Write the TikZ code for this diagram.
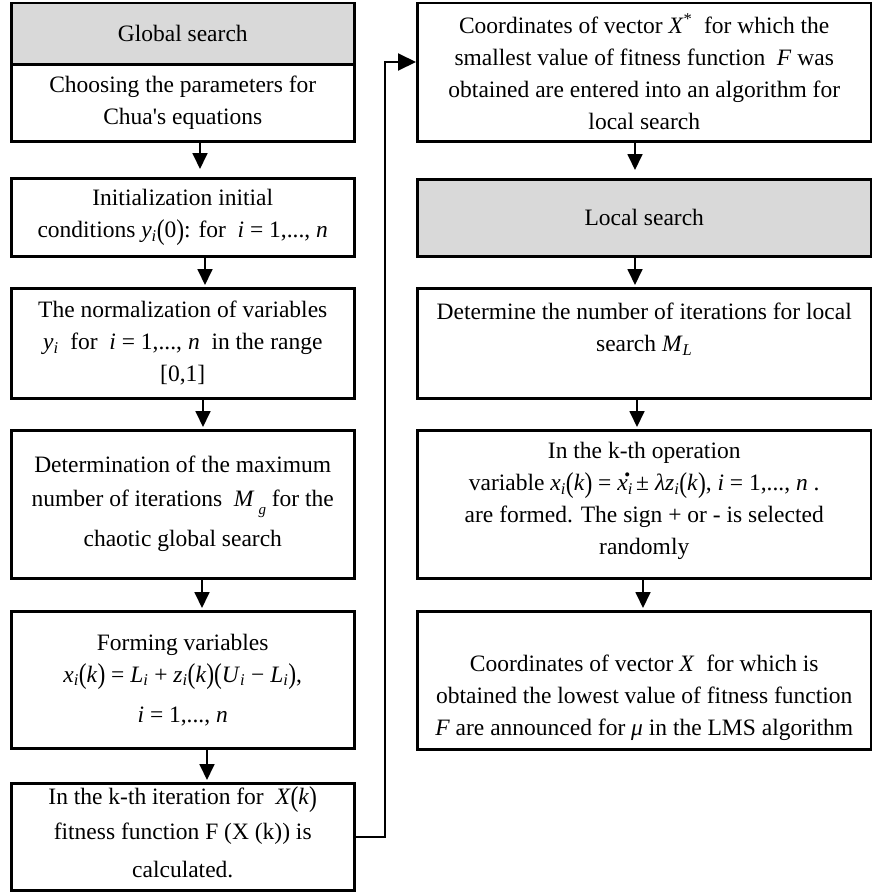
\documentclass[tikz,border=0pt]{standalone}
\usepackage{fontspec}
\usepackage{graphicx}
\setmainfont{Liberation Serif}
\usetikzlibrary{arrows.meta}
\newcommand\mi[1]{\textit{#1}}
\newcommand\sbi[2]{\textit{#1}\textsubscript{\textit{#2}}}
\newcommand\bpar[1]{\raisebox{-0.08em}{\scalebox{1}[1.22]{(}}#1\raisebox{-0.08em}{\scalebox{1}[1.22]{)}}}
\newcommand\xdot{\mi{x}\textsubscript{\mi{i}}\kern-0.36em\raisebox{0.42em}{\fontsize{17pt}{17pt}\selectfont •}}
\tikzset{
  box/.style={draw=black, line width=2.5pt, fill=white, anchor=north west, inner sep=0pt,
    align=center, font=\fontsize{23.5pt}{32pt}\selectfont},
  graybox/.style={box, fill=black!15},
  arr/.style={line width=1.8pt, -{Triangle[length=16pt,width=15pt]}},
  feed/.style={line width=2pt, -{Triangle[length=18pt,width=17pt]}},
}
\begin{document}
\begin{tikzpicture}
\useasboundingbox (0,0) rectangle (872pt,-892pt);
% left column
\node[graybox, minimum width=343pt, minimum height=62pt] (L1g) at (10pt,-1.5pt) {Global search};
\node[box, minimum width=343pt, minimum height=77pt] (L1w) at (10pt,-63pt) {Choosing the parameters for\\Chua\textquotesingle s equations};
\node[box, minimum width=343pt, minimum height=78pt] (L2) at (10pt,-177pt) {Initialization initial\\conditions \sbi{y}{i}\bpar{0}: for \ \mi{i} = 1,..., \mi{n}};
\node[box, minimum width=343pt, minimum height=110pt] (L3) at (10pt,-287pt) {The normalization of variables\\\sbi{y}{i}\ \ for \ \mi{i} = 1,..., \mi{n}\ \ in the range\\{[0,1]}};
\node[box, minimum width=343pt, minimum height=148pt] (L4) at (10pt,-429pt) {Determination of the maximum\\[2pt]number of iterations \ \mi{M}\,\raisebox{-0.3em}{\fontsize{15pt}{15pt}\selectfont\mi{g}} for the\\[8pt]chaotic global search};
\node[box, minimum width=343pt, minimum height=137pt] (L5) at (10pt,-610pt) {Forming variables\\\sbi{x}{i}\bpar{\mi{k}} = \sbi{L}{i} + \sbi{z}{i}\bpar{\mi{k}}\bpar{\sbi{U}{i} − \sbi{L}{i}},\\[8pt]\mi{i} = 1,..., \mi{n}};
\node[box, minimum width=343pt, minimum height=107pt] (L6) at (10pt,-782pt) {In the k-th iteration for \ \mi{X}\bpar{\mi{k}}\\[3pt]fitness function F (X (k)) is\\[6pt]calculated.\\[-22pt]\mbox{}};
% right column
\node[box, minimum width=454pt, minimum height=138.5pt] (R1) at (416pt,-1.5pt) {Coordinates of vector \mi{X}\textsuperscript{*}\ \ for which the\\smallest value of fitness function \ \mi{F} was\\obtained are entered into an algorithm for\\local search};
\node[graybox, minimum width=454pt, minimum height=77pt] (R2) at (416pt,-178pt) {Local search};
\node[box, minimum width=454pt, minimum height=110pt] (R3) at (416pt,-287pt) {Determine the number of iterations for local\\search \sbi{M}{L}\\\mbox{}};
\node[box, minimum width=454pt, minimum height=148pt] (R4) at (416pt,-429pt) {In the k-th operation\\variable \sbi{x}{i}\bpar{\mi{k}} = \xdot\ ± \mi{λ}\sbi{z}{i}\bpar{\mi{k}}, \mi{i} = 1,..., \mi{n} .\\are formed. The sign + or - is selected\\randomly\\[-20pt]\mbox{}};
\node[box, minimum width=454pt, minimum height=138pt] (R5) at (416pt,-610pt) {\mbox{}\\[20pt]Coordinates of vector \mi{X}\ \ for which is\\obtained the lowest value of fitness function\\\mi{F} are announced for \mi{μ} in the LMS algorithm};
% x positions of the arrows
\coordinate (xa) at (200pt,0);
\coordinate (xb) at (205pt,0);
\coordinate (xc) at (203pt,0);
\coordinate (xd) at (202pt,0);
\coordinate (xe) at (207pt,0);
\coordinate (xf) at (635pt,0);
\coordinate (xg) at (637pt,0);
\coordinate (xh) at (643pt,0);
\draw[arr, shorten >=8pt] (L1w.south -| xa) -- (L2.north -| xa);
\draw[arr, shorten >=2pt] (L2.south -| xb) -- (L3.north -| xb);
\draw[arr, shorten >=2pt] (L3.south -| xc) -- (L4.north -| xc);
\draw[arr, shorten >=2pt] (L4.south -| xd) -- (L5.north -| xd);
\draw[arr, shorten >=2pt] (L5.south -| xe) -- (L6.north -| xe);
\draw[arr, shorten >=8pt] (R1.south -| xf) -- (R2.north -| xf);
\draw[arr, shorten >=2pt] (R2.south -| xf) -- (R3.north -| xf);
\draw[arr, shorten >=2pt] (R3.south -| xg) -- (R4.north -| xg);
\draw[arr, shorten >=2pt] (R4.south -| xh) -- (R5.north -| xh);
% feedback connector
\coordinate (turn) at (385pt,-62pt);
\draw[feed] (L6.east) -| (turn) -- (R1.west |- turn);
\end{tikzpicture}
\end{document}
